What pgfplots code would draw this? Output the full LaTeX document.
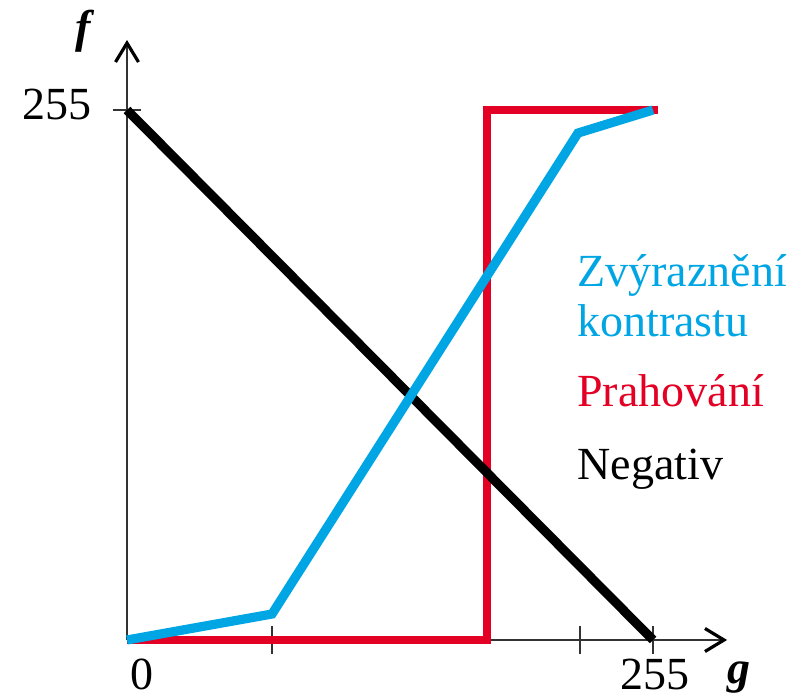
\documentclass[border=0pt]{standalone}
\usepackage{fontspec}
\setmainfont{Liberation Serif}
\usepackage{pgfplots}
\pgfplotsset{compat=1.18}
\usetikzlibrary{arrows.meta}
\definecolor{cblue}{RGB}{0,166,228}
\definecolor{cred}{RGB}{227,0,36}
\newcommand{\lab}{\fontsize{23}{27}\selectfont}
\begin{document}
\begin{tikzpicture}
\useasboundingbox (-63.5pt,-29.5pt) rectangle (342.5pt,320pt);
\begin{axis}[
  at={(0pt,0pt)}, anchor=origin,
  x=1.0314pt, y=1.0392pt,
  xmin=0, xmax=290.9, ymin=0, ymax=288.7,
  axis lines=middle,
  clip=false,
  axis line style={line width=0.75pt, draw=black!80, -{Straight Barb[length=9.5pt,width=11.5pt,line width=1.6pt,black]}},
  xtick={70.3,219.6,255}, xticklabels={,,},
  ytick={255}, yticklabels={},
  minor tick num=0,
  tick align=center,
  major tick length=14pt,
  tick style={line width=0.75pt, draw=black!80},
]
\addplot[cred, line width=4pt, line join=miter] coordinates {(0,0) (174.3,0) (174.3,255) (257.4,255)};
\addplot[black, line width=4.6pt] coordinates {(0,255) (255,0)};
\addplot[cblue, line width=4.6pt, line join=miter] coordinates {(0,0) (70.3,12.5) (218.6,243.9) (255,255)};
\end{axis}
\node[anchor=base, inner sep=0pt, font=\lab] at (7.5pt,-24.8pt) {0};
\node[anchor=base, inner sep=0pt, font=\lab] at (264pt,-24.8pt) {255};
\node[anchor=base east, inner sep=0pt, font=\lab] at (-17.5pt,260pt) {255};
\node[anchor=base, inner sep=0pt, font=\lab\bfseries\itshape] at (306pt,-22pt) {g};
\node[anchor=base, inner sep=0pt, font=\lab\bfseries\itshape] at (-22pt,298.5pt) {f};
\node[anchor=base west, inner sep=0pt, font=\lab, text=cblue] at (225pt,176.5pt) {Zvýraznění};
\node[anchor=base west, inner sep=0pt, font=\lab, text=cblue] at (225pt,151.5pt) {kontrastu};
\node[anchor=base west, inner sep=0pt, font=\lab, text=cred] at (225pt,116.5pt) {Prahování};
\node[anchor=base west, inner sep=0pt, font=\lab, text=black] at (225pt,80pt) {Negativ};
\end{tikzpicture}
\end{document}
